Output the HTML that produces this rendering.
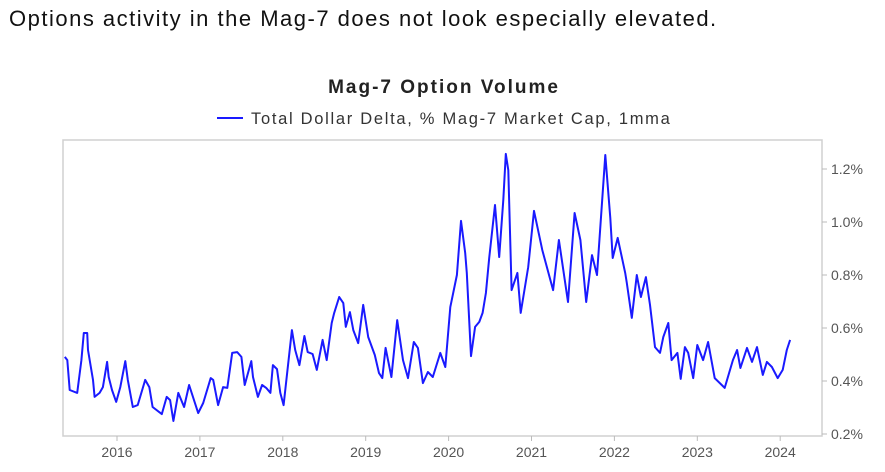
<!DOCTYPE html>
<html><head><meta charset="utf-8"><style>
body{margin:0;width:885px;height:472px;background:#fff;font-family:"Liberation Sans",sans-serif;overflow:hidden}
#hd{position:absolute;left:9px;top:6px;font-size:22px;letter-spacing:1.5px;color:#111;white-space:nowrap}
svg{position:absolute;left:0;top:0}
</style></head><body>
<div id="hd">Options activity in the Mag-7 does not look especially elevated.</div>
<svg id="c" width="885" height="472">
<text x="444" y="93" text-anchor="middle" font-size="19" font-weight="bold" letter-spacing="2" fill="#222">Mag-7 Option Volume</text>
<g>
<line x1="217" y1="118" x2="243" y2="118" stroke="#1a1aff" stroke-width="2"/>
<text x="251" y="124" font-size="16.5" letter-spacing="1.7" fill="#333">Total Dollar Delta, % Mag-7 Market Cap, 1mma</text>
</g>
<rect x="63" y="140" width="759" height="296" fill="none" stroke="#d0d0d0" stroke-width="1.5"/>
<g id="ax"></g>
<path id="ln" fill="none" stroke="#1a1aff" stroke-width="2" stroke-linejoin="round"/>
</svg>
<script>
const years=[2015.37,15.40,15.43,15.52,15.57,15.60,15.64,15.65,15.71,15.73,15.79,15.83,15.88,15.90,15.94,15.99,16.04,16.10,16.13,16.19,16.25,16.34,16.39,16.43,16.54,16.60,16.64,16.68,16.74,16.81,16.87,16.98,17.04,17.13,17.16,17.22,17.28,17.33,17.39,17.45,17.50,17.54,17.62,17.64,17.70,17.75,17.80,17.85,17.88,17.93,17.97,18.01,18.11,18.15,18.20,18.26,18.30,18.36,18.41,18.48,18.53,18.59,18.62,18.68,18.73,18.76,18.81,18.85,18.91,18.97,19.03,19.11,19.16,19.20,19.24,19.31,19.38,19.45,19.51,19.58,19.63,19.69,19.75,19.81,19.90,19.96,20.02,20.10,20.15,20.20,20.22,20.27,20.32,20.37,20.41,20.45,20.49,20.56,20.61,20.66,20.69,20.72,20.76,20.83,20.87,20.96,21.03,21.13,21.26,21.33,21.44,21.52,21.59,21.66,21.73,21.79,21.89,21.95,21.98,22.04,22.13,22.15,22.21,22.27,22.32,22.38,22.43,22.49,22.55,22.59,22.65,22.69,22.76,22.80,22.85,22.89,22.95,23.00,23.07,23.13,23.21,23.33,23.43,23.48,23.52,23.60,23.66,23.72,23.79,23.84,23.90,23.97,24.03,24.08,24.12].map((v,i)=>i==0?v:2000+v);
const values=[.491,.479,.366,.355,.479,.581,.581,.517,.404,.340,.355,.377,.472,.415,.366,.321,.377,.475,.404,.302,.309,.404,.377,.302,.275,.340,.328,.249,.355,.302,.385,.279,.317,.411,.404,.309,.377,.374,.506,.509,.491,.385,.475,.415,.340,.385,.374,.355,.460,.445,.355,.309,.592,.517,.460,.570,.509,.502,.442,.555,.479,.619,.657,.717,.694,.604,.660,.592,.543,.687,.566,.498,.430,.411,.525,.415,.630,.479,.411,.547,.525,.392,.434,.415,.506,.453,.679,.800,1.004,.883,.808,.494,.604,.623,.657,.732,.864,1.064,.868,1.083,1.257,1.196,.743,.808,.657,.830,1.042,.894,.743,.932,.698,1.034,.932,.698,.875,.800,1.253,1.015,.864,.940,.808,.770,.638,.800,.717,.792,.687,.528,.506,.566,.619,.479,.506,.408,.528,.506,.411,.536,.479,.547,.411,.374,.479,.517,.449,.525,.472,.528,.423,.472,.453,.411,.442,.517,.555];
const xTicks=[2016,2017,2018,2019,2020,2021,2022,2023,2024];
const yTicks=[0.2,0.4,0.6,0.8,1.0,1.2];
const yTickLabels=["0.2%","0.4%","0.6%","0.8%","1.0%","1.2%"];
const X=yr=>117+(yr-2016)*82.9;
const Y=v=>434-(v-0.2)*265;
const NS='http://www.w3.org/2000/svg';
const ax=document.getElementById('ax');
function mk(t,a){const e=document.createElementNS(NS,t);for(const k in a)e.setAttribute(k,a[k]);return e;}
xTicks.forEach(t=>{
  const g=mk('g',{});
  
  
  g.appendChild(mk('line',{x1:X(t),x2:X(t),y1:436,y2:441,stroke:'#bbb'}));
  const tx=mk('text',{x:X(t),y:457,'text-anchor':'middle','font-size':14,fill:'#555'});tx.textContent=t;g.appendChild(tx);
  ax.appendChild(g);
});
yTicks.forEach((t,i)=>{
  const g=mk('g',{});
  
  
  g.appendChild(mk('line',{x1:822,x2:827,y1:Y(t),y2:Y(t),stroke:'#bbb'}));
  const tx=mk('text',{x:831,y:Y(t)+5,'font-size':14,fill:'#555'});tx.textContent=yTickLabels[i];g.appendChild(tx);
  ax.appendChild(g);
});
document.getElementById('ln').setAttribute('d',years.map((yr,i)=>(i?'L':'M')+X(yr).toFixed(1)+','+Y(values[i]).toFixed(1)).join(''));
</script>
</body></html>
